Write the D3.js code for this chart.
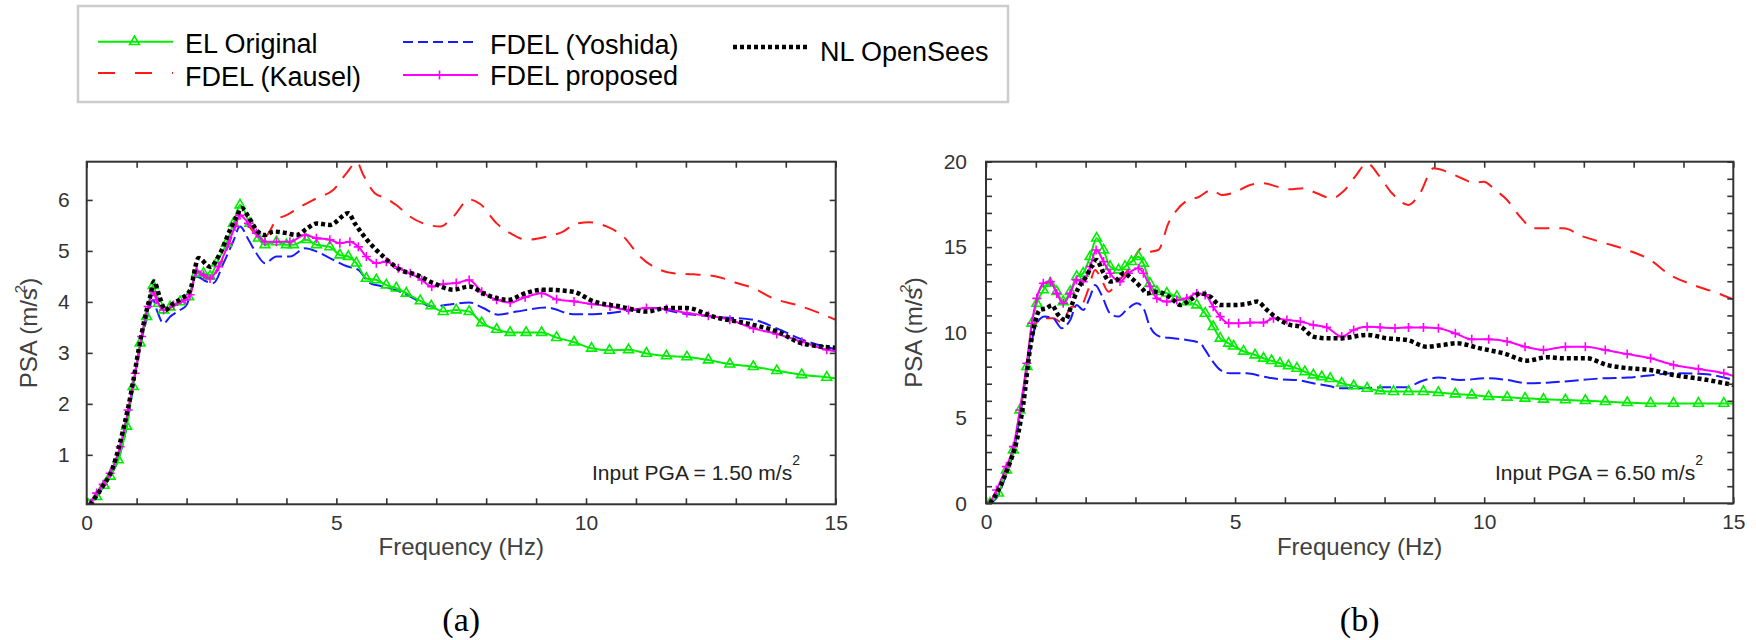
<!DOCTYPE html>
<html><head><meta charset="utf-8">
<script src="https://cdn.jsdelivr.net/npm/d3@7"></script>
<style>body{margin:0;background:#fff;} svg{display:block;font-family:"Liberation Sans",Arial,sans-serif;}</style>
</head><body><svg id="c" width="1756" height="640"></svg>
<script>
// ---------- DATA: [frequency (Hz), PSA] ----------
const seriesNames = ["EL Original", "FDEL (Kausel)", "FDEL (Yoshida)", "FDEL proposed", "NL OpenSees"];
const panelLabels = ["(a)", "(b)"];
const pgaValues = ["1.50", "6.50"];
const xTickLabels = [0, 5, 10, 15];
const aYTickLabels = [1, 2, 3, 4, 5, 6];
const bYTickLabels = [0, 5, 10, 15, 20];

const aEL = [[0.03,0.02],[0.2,0.18],[0.35,0.4],[0.47,0.58],[0.63,0.9],[0.8,1.56],[0.93,2.34],[1.07,3.19],[1.2,3.71],[1.33,4.32],[1.44,3.97],[1.54,3.84],[1.67,3.9],[1.87,4.0],[2.04,4.1],[2.2,4.56],[2.34,4.56],[2.47,4.5],[2.6,4.76],[2.8,5.15],[2.94,5.54],[3.07,5.9],[3.27,5.54],[3.44,5.25],[3.57,5.12],[3.8,5.18],[4.0,5.12],[4.14,5.12],[4.4,5.22],[4.6,5.12],[4.87,5.08],[5.07,4.92],[5.24,4.89],[5.4,4.76],[5.6,4.46],[5.8,4.43],[6.0,4.33],[6.2,4.27],[6.4,4.17],[6.68,4.02],[6.9,3.92],[7.14,3.81],[7.4,3.84],[7.66,3.81],[7.91,3.59],[8.21,3.46],[8.48,3.4],[8.8,3.4],[9.11,3.4],[9.41,3.3],[9.76,3.21],[10.11,3.09],[10.47,3.05],[10.85,3.06],[11.21,2.99],[11.61,2.94],[12.02,2.92],[12.45,2.86],[12.88,2.78],[13.35,2.73],[13.82,2.65],[14.32,2.57],[14.82,2.52],[15,2.5]];
const aKA = [[0.05,0.03],[0.2,0.22],[0.47,0.62],[0.67,1.14],[0.83,1.86],[0.97,2.58],[1.1,3.3],[1.23,3.88],[1.33,4.18],[1.42,4.0],[1.54,3.82],[1.74,3.92],[1.97,4.02],[2.07,4.12],[2.2,4.58],[2.34,4.5],[2.47,4.44],[2.64,4.66],[2.84,5.12],[2.97,5.45],[3.07,5.72],[3.24,5.5],[3.4,5.32],[3.57,5.28],[3.8,5.61],[4.0,5.7],[4.27,5.86],[4.6,6.03],[4.94,6.2],[5.2,6.52],[5.41,6.74],[5.54,6.49],[5.77,6.13],[6.0,6.03],[6.2,5.9],[6.48,5.67],[6.88,5.5],[7.08,5.48],[7.34,5.67],[7.66,6.01],[7.88,5.92],[8.21,5.54],[8.48,5.35],[8.81,5.22],[9.21,5.28],[9.54,5.38],[9.81,5.54],[10.08,5.56],[10.41,5.48],[10.75,5.28],[11.08,4.89],[11.48,4.63],[11.75,4.56],[12.15,4.54],[12.61,4.5],[13.02,4.37],[13.35,4.27],[13.75,4.07],[14.22,3.94],[14.68,3.78],[15,3.65]];
const aYO = [[0.03,0.02],[0.2,0.18],[0.35,0.4],[0.47,0.58],[0.63,0.9],[0.8,1.56],[0.93,2.34],[1.07,3.15],[1.2,3.65],[1.33,4.04],[1.4,3.85],[1.54,3.58],[1.67,3.71],[1.87,3.84],[2.0,3.94],[2.2,4.5],[2.4,4.4],[2.54,4.37],[2.74,4.76],[2.94,5.2],[3.07,5.48],[3.24,5.22],[3.4,4.95],[3.57,4.76],[3.8,4.89],[4.07,4.89],[4.37,5.05],[4.6,4.99],[4.87,4.86],[5.21,4.7],[5.44,4.63],[5.67,4.37],[5.94,4.3],[6.28,4.2],[6.68,4.0],[6.9,3.91],[7.34,3.96],[7.66,3.99],[7.94,3.88],[8.24,3.75],[8.61,3.81],[9.21,3.89],[9.74,3.76],[10.15,3.76],[10.95,3.84],[11.35,3.88],[11.88,3.78],[12.55,3.71],[13.35,3.65],[13.82,3.48],[14.36,3.25],[15,3.07]];
const aPR = [[0.07,0.05],[0.2,0.25],[0.33,0.42],[0.47,0.64],[0.67,1.16],[0.83,1.88],[0.97,2.6],[1.1,3.32],[1.23,3.91],[1.33,4.2],[1.4,4.04],[1.54,3.84],[1.74,3.94],[1.97,4.04],[2.07,4.14],[2.2,4.6],[2.34,4.53],[2.47,4.46],[2.64,4.69],[2.84,5.15],[2.97,5.48],[3.07,5.7],[3.24,5.54],[3.4,5.35],[3.57,5.18],[3.8,5.18],[4.07,5.18],[4.37,5.31],[4.6,5.25],[4.87,5.22],[5.07,5.15],[5.27,5.18],[5.44,5.08],[5.6,4.89],[5.8,4.76],[6.0,4.79],[6.24,4.66],[6.48,4.56],[6.71,4.43],[6.91,4.3],[7.14,4.35],[7.4,4.37],[7.66,4.43],[7.91,4.2],[8.21,4.04],[8.48,3.99],[8.78,4.09],[9.11,4.17],[9.41,4.05],[9.76,4.01],[10.11,3.96],[10.48,3.91],[10.85,3.84],[11.21,3.88],[11.61,3.86],[12.02,3.78],[12.45,3.73],[12.88,3.65],[13.35,3.48],[13.82,3.37],[14.32,3.22],[14.82,3.06],[15,3.03]];
const aNL = [[0.07,0.02],[0.27,0.31],[0.53,0.77],[0.73,1.49],[0.9,2.27],[1.04,3.06],[1.17,3.71],[1.27,4.1],[1.35,4.4],[1.46,4.1],[1.57,3.84],[1.74,3.97],[1.9,4.07],[2.07,4.23],[2.24,4.86],[2.47,4.69],[2.67,4.95],[2.87,5.41],[3.0,5.67],[3.1,5.84],[3.24,5.67],[3.4,5.41],[3.57,5.31],[3.74,5.38],[4.0,5.35],[4.2,5.31],[4.41,5.44],[4.61,5.54],[4.87,5.51],[5.24,5.74],[5.37,5.54],[5.61,5.22],[5.94,4.89],[6.28,4.63],[6.61,4.53],[6.94,4.37],[7.34,4.24],[7.66,4.3],[8.0,4.14],[8.44,4.04],[8.78,4.17],[9.15,4.24],[9.74,4.2],[10.15,4.01],[10.68,3.91],[11.21,3.81],[11.61,3.88],[12.02,3.88],[12.55,3.71],[13.35,3.55],[13.82,3.42],[14.32,3.19],[15,3.1]];

const bEL = [[0.08,0],[0.25,0.59],[0.41,1.95],[0.55,3.12],[0.68,5.46],[0.82,8.0],[0.92,10.54],[1.02,11.7],[1.15,12.49],[1.29,12.88],[1.42,12.39],[1.55,11.8],[1.69,12.39],[1.82,13.27],[1.95,13.47],[2.09,14.44],[2.22,15.52],[2.36,14.83],[2.49,13.86],[2.66,13.66],[2.79,13.86],[2.92,14.15],[3.06,14.44],[3.16,14.05],[3.29,12.88],[3.43,12.39],[3.63,12.3],[3.83,12.1],[4.03,11.8],[4.23,11.61],[4.4,11.12],[4.56,10.34],[4.7,9.66],[4.87,9.37],[4.97,9.2],[5.17,8.9],[5.4,8.68],[5.57,8.49],[5.73,8.35],[5.9,8.2],[6.07,8.05],[6.24,7.9],[6.4,7.7],[6.57,7.51],[6.74,7.4],[6.91,7.3],[7.14,7.03],[7.38,6.87],[7.65,6.73],[7.91,6.58],[8.18,6.54],[8.48,6.54],[8.78,6.54],[9.08,6.48],[9.42,6.4],[9.75,6.34],[10.09,6.25],[10.46,6.21],[10.82,6.15],[11.19,6.09],[11.63,6.05],[12.03,6.01],[12.43,5.95],[12.87,5.89],[13.34,5.85],[13.8,5.85],[14.3,5.85],[14.81,5.85],[15,5.85]];
const bKA = [[0.08,0],[0.25,0.5],[0.41,1.8],[0.55,3.0],[0.68,5.1],[0.85,8.4],[1.02,10.6],[1.15,10.83],[1.35,10.83],[1.52,10.6],[1.72,11.51],[1.89,11.51],[2.05,12.49],[2.19,13.66],[2.32,13.08],[2.46,12.39],[2.62,12.88],[2.82,13.56],[2.99,14.44],[3.12,14.93],[3.26,14.73],[3.46,14.83],[3.66,16.39],[3.83,17.17],[4.06,17.76],[4.26,17.92],[4.53,18.35],[4.73,18.05],[5.03,18.25],[5.3,18.64],[5.57,18.74],[5.84,18.54],[6.1,18.38],[6.37,18.44],[6.64,18.15],[6.94,17.86],[7.17,18.25],[7.41,19.13],[7.65,19.91],[7.88,19.22],[8.15,18.15],[8.48,17.47],[8.71,18.15],[8.98,19.61],[9.25,19.42],[9.55,19.03],[9.79,18.77],[9.99,18.83],[10.22,18.35],[10.46,17.76],[10.72,16.78],[10.99,16.1],[11.26,16.1],[11.59,16.1],[11.99,15.61],[12.39,15.26],[12.87,14.83],[13.33,14.25],[13.73,13.37],[14.2,12.78],[14.6,12.39],[15,11.94]];
const bYO = [[0.08,0],[0.25,0.5],[0.41,1.76],[0.55,3.0],[0.68,5.07],[0.85,8.39],[1.02,10.54],[1.18,10.93],[1.35,10.83],[1.52,10.25],[1.69,10.73],[1.82,11.61],[1.95,11.32],[2.09,12.1],[2.19,12.78],[2.32,12.2],[2.49,11.12],[2.66,10.93],[2.82,11.32],[3.03,11.71],[3.16,11.42],[3.29,10.34],[3.49,9.76],[3.76,9.66],[4.03,9.56],[4.3,9.37],[4.4,8.98],[4.53,8.39],[4.7,7.81],[4.9,7.61],[5.23,7.61],[5.57,7.42],[5.9,7.26],[6.24,7.22],[6.57,7.03],[6.91,6.85],[7.11,6.73],[7.51,6.73],[7.98,6.79],[8.45,6.79],[8.71,7.12],[9.08,7.36],[9.52,7.22],[10.05,7.32],[10.46,7.22],[10.86,7.03],[11.26,7.06],[11.79,7.18],[12.39,7.32],[12.87,7.36],[13.4,7.51],[13.8,7.61],[14.4,7.57],[15,7.22]];
const bPR = [[0.08,0],[0.21,0.78],[0.41,2.15],[0.55,3.32],[0.68,5.46],[0.82,8.2],[0.92,10.54],[1.02,12.0],[1.15,12.88],[1.29,12.98],[1.42,12.29],[1.55,11.71],[1.69,12.29],[1.82,13.08],[1.95,12.98],[2.09,13.86],[2.21,14.83],[2.36,14.15],[2.49,13.47],[2.69,12.98],[2.86,13.47],[3.06,13.76],[3.16,13.47],[3.29,12.69],[3.43,12.0],[3.63,11.81],[3.83,11.9],[4.03,12.0],[4.23,12.29],[4.4,12.2],[4.56,11.51],[4.7,10.93],[4.87,10.54],[5.07,10.54],[5.3,10.58],[5.57,10.58],[5.77,10.83],[6.04,10.73],[6.31,10.64],[6.57,10.44],[6.84,10.3],[7.14,9.76],[7.38,10.15],[7.65,10.34],[7.91,10.3],[8.21,10.25],[8.48,10.3],[8.78,10.3],[9.08,10.25],[9.42,9.95],[9.75,9.6],[10.09,9.6],[10.46,9.47],[10.82,9.17],[11.19,8.98],[11.63,9.17],[12.03,9.17],[12.43,8.98],[12.87,8.74],[13.34,8.49],[13.8,8.1],[14.3,7.86],[14.81,7.61],[15,7.46]];
const bNL = [[0.08,0],[0.25,0.78],[0.45,2.15],[0.62,3.71],[0.75,5.85],[0.88,8.98],[0.98,10.54],[1.08,11.32],[1.22,11.42],[1.32,11.6],[1.45,11.03],[1.59,10.73],[1.72,11.61],[1.85,12.59],[1.99,13.17],[2.12,13.86],[2.22,14.25],[2.36,13.47],[2.49,12.98],[2.62,13.08],[2.76,13.47],[2.92,13.17],[3.13,12.59],[3.23,12.29],[3.39,12.39],[3.56,12.29],[3.76,11.9],[3.9,11.61],[4.1,11.9],[4.3,12.29],[4.5,12.1],[4.7,11.61],[4.97,11.61],[5.23,11.67],[5.44,11.81],[5.64,11.32],[5.9,10.73],[6.1,10.44],[6.31,10.34],[6.57,9.76],[6.84,9.66],[7.11,9.66],[7.65,9.86],[8.05,9.66],[8.45,9.56],[8.85,9.17],[9.18,9.27],[9.45,9.37],[9.92,9.07],[10.39,8.78],[10.86,8.35],[11.26,8.55],[11.59,8.49],[12.06,8.49],[12.46,8.1],[12.93,7.9],[13.33,7.81],[13.8,7.51],[14.4,7.26],[15,6.93]];

// ---------- STYLES ----------
const styles = [
  {color:"#00ee00", dash:null, width:2, marker:"tri", legDash:null},
  {color:"#ff1a1a", dash:"15,10", width:2, marker:null, legDash:"17,20"},
  {color:"#1a1aff", dash:"14,5", width:2, marker:null, legDash:"10,5"},
  {color:"#ff00ff", dash:null, width:2, marker:"plus", legDash:null},
  {color:"#000000", dash:"4,3", width:4.5, marker:null, legDash:"4,3"}
];
const drawOrder = [1, 2, 0, 3, 4];

const svg = d3.select("#c");
const tickColor = "#333";

const panels = [
  {x0:86.7, x1:835.7, yTop:161.7, yBot:504.3, yDom:[0.03,6.75], yTicks:d3.range(1,7), yLabs:aYTickLabels, pad:17,
   data:[aEL,aKA,aYO,aPR,aNL], pga:pgaValues[0], pgaX:592, label:panelLabels[0], ylabX:37},
  {x0:986, x1:1733.3, yTop:161.7, yBot:503.3, yDom:[0,20], yTicks:d3.range(0,21), yLabs:bYTickLabels, pad:19,
   data:[bEL,bKA,bYO,bPR,bNL], pga:pgaValues[1], pgaX:1495, label:panelLabels[1], ylabX:922}
];

function marker(sel, type, color) {
  if (type === "tri") {
    sel.append("path").attr("d", d3.symbol(d3.symbolTriangle, 42)())
      .attr("fill", "none").attr("stroke", color).attr("stroke-width", 1.6);
  } else if (type === "plus") {
    sel.append("path").attr("d", "M-4.5,0H4.5M0,-4.5V4.5")
      .attr("fill", "none").attr("stroke", color).attr("stroke-width", 1.6);
  }
}

panels.forEach((p, pi) => {
  const x = d3.scaleLinear().domain([0, 15]).range([p.x0, p.x1]);
  const y = d3.scaleLinear().domain(p.yDom).range([p.yBot, p.yTop]);
  const g = svg.append("g");
  const clipId = "clip" + pi;
  svg.append("defs").append("clipPath").attr("id", clipId)
    .append("rect").attr("x", p.x0).attr("y", p.yTop).attr("width", p.x1 - p.x0).attr("height", p.yBot - p.yTop);

  const plot = g.append("g").attr("clip-path", `url(#${clipId})`);
  const line = d3.line().x(d => x(d[0])).y(d => y(d[1])).curve(d3.curveMonotoneX);
  drawOrder.forEach(si => {
    const st = styles[si], data = p.data[si];
    plot.append("path").datum(data).attr("d", line)
      .attr("fill", "none").attr("stroke", st.color).attr("stroke-width", st.width)
      .attr("stroke-dasharray", st.dash).attr("stroke-linejoin", "round");
    if (st.marker) {
      plot.selectAll(null).data(data.filter(d => d[0] < 14.95)).enter().append("g")
        .attr("transform", d => `translate(${x(d[0])},${y(d[1])})`)
        .each(function() { marker(d3.select(this), st.marker, st.color); });
    }
  });

  // axes
  const xt = d3.range(0, 16);
  const styleAxis = (ag) => {
    ag.select(".domain").remove();
    ag.selectAll("line").attr("stroke", tickColor).attr("stroke-width", 1.6);
    ag.selectAll("text").attr("fill", "#333").attr("font-size", 21).attr("font-family", "Liberation Sans, Arial, sans-serif");
  };
  g.append("g").attr("transform", `translate(0,${p.yBot})`)
    .call(d3.axisBottom(x).tickValues(xt).tickSize(-6).tickPadding(11)
      .tickFormat(d => xTickLabels.includes(d) ? d : "")).call(styleAxis);
  g.append("g").attr("transform", `translate(0,${p.yTop})`)
    .call(d3.axisTop(x).tickValues(xt).tickSize(-6).tickFormat("")).call(styleAxis);
  g.append("g").attr("transform", `translate(${p.x0},0)`)
    .call(d3.axisLeft(y).tickValues(p.yTicks).tickSize(-6).tickPadding(p.pad)
      .tickFormat(d => p.yLabs.includes(d) ? d : "")).call(styleAxis);
  g.append("g").attr("transform", `translate(${p.x1},0)`)
    .call(d3.axisRight(y).tickValues(p.yTicks).tickSize(-6).tickFormat("")).call(styleAxis);

  g.append("rect").attr("x", p.x0).attr("y", p.yTop).attr("width", p.x1 - p.x0).attr("height", p.yBot - p.yTop)
    .attr("fill", "none").attr("stroke", tickColor).attr("stroke-width", 2);

  // labels
  const cx = (p.x0 + p.x1) / 2;
  g.append("text").attr("x", cx).attr("y", 555).attr("text-anchor", "middle")
    .attr("font-size", 24).attr("fill", "#404040").text("Frequency (Hz)");
  const cy = (p.yTop + p.yBot) / 2;
  const yl = g.append("text").attr("transform", `translate(${p.ylabX},${cy}) rotate(-90)`)
    .attr("text-anchor", "middle").attr("font-size", 24).attr("fill", "#404040");
  yl.append("tspan").text("PSA (m/s");
  yl.append("tspan").attr("dx", -5).attr("dy", -12).attr("font-size", 15).text("2");
  yl.append("tspan").attr("dx", -1).attr("dy", 12).text(")");

  const pt = g.append("text").attr("x", p.pgaX).attr("y", 480).attr("font-size", 21).attr("fill", "#222");
  pt.append("tspan").text(`Input PGA = ${p.pga} m/s`);
  pt.append("tspan").attr("dy", -15).attr("font-size", 14).text("2");

  g.append("text").attr("x", cx).attr("y", 631).attr("text-anchor", "middle")
    .attr("font-family", "Liberation Serif, Times New Roman, serif").attr("font-size", 34).attr("fill", "#000")
    .text(p.label);
});

// ---------- LEGEND ----------
const leg = svg.append("g");
leg.append("rect").attr("x", 78).attr("y", 6).attr("width", 930).attr("height", 96)
  .attr("fill", "#fff").attr("stroke", "#cccccc").attr("stroke-width", 2.5);
const legPos = [
  {x1:98, x2:173, ly:41.7, tx:185, ty:53},
  {x1:98, x2:173, ly:73, tx:185, ty:86},
  {x1:403, x2:478, ly:42, tx:490, ty:54},
  {x1:403, x2:478, ly:75, tx:490, ty:85},
  {x1:733, x2:808, ly:47, tx:820, ty:61}
];
seriesNames.forEach((name, i) => {
  const st = styles[i], lp = legPos[i];
  leg.append("line").attr("x1", lp.x1).attr("x2", lp.x2).attr("y1", lp.ly).attr("y2", lp.ly)
    .attr("stroke", st.color).attr("stroke-width", st.width).attr("stroke-dasharray", st.legDash);
  if (st.marker) {
    const m = leg.append("g").attr("transform", `translate(${(lp.x1 + lp.x2) / 2 - 1},${lp.ly})`);
    marker(m, st.marker, st.color);
  }
  leg.append("text").attr("x", lp.tx).attr("y", lp.ty).attr("font-size", 27).attr("fill", "#000").text(name);
});
</script></body></html>
